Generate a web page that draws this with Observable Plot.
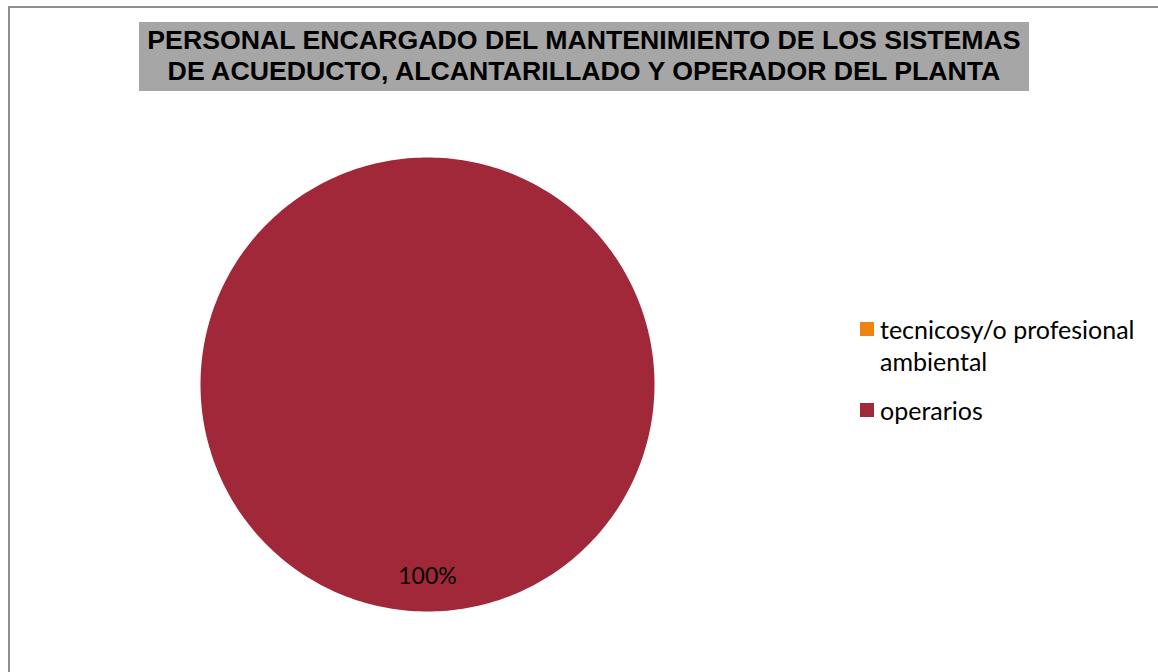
<!DOCTYPE html>
<html>
<head>
<meta charset="utf-8">
<script src="https://cdn.jsdelivr.net/npm/d3@7"></script>
<script src="https://cdn.jsdelivr.net/npm/@observablehq/plot@0.6"></script>
<style>
  html, body { margin: 0; padding: 0; background: #fff; }
  #wrap { position: relative; width: 1158px; height: 672px; overflow: hidden; }
  #frame { position: absolute; left: 8px; top: 6px; width: 1200px; height: 700px;
           border-left: 2px solid #8e8e8e; border-top: 2px solid #8e8e8e; box-sizing: border-box; }
  #title { position: absolute; left: 139px; top: 22px; width: 890px; height: 69px; background: #a6a6a6;
           font-family: "Liberation Sans", Arial, sans-serif; font-weight: bold; font-size: 26.7px;
           line-height: 31px; text-align: center; color: #000; padding-top: 3px; box-sizing: border-box;
           white-space: nowrap; }
  #chart { position: absolute; left: 0; top: 0; }
  #legend { position: absolute; left: 860px; top: 313px; font-family: Lato, "Open Sans", sans-serif;
            font-size: 25px; color: #000; }
  .item { position: relative; padding-left: 20px; line-height: 32px; margin-bottom: 17px; white-space: nowrap; }
  .sw { position: absolute; left: 0; top: 9px; width: 14px; height: 14px; }
</style>
</head>
<body>
<div id="wrap">
  <div id="frame"></div>
  <div id="chart"></div>
  <div id="title">PERSONAL ENCARGADO DEL MANTENIMIENTO DE LOS SISTEMAS<br>DE ACUEDUCTO, ALCANTARILLADO Y OPERADOR DEL PLANTA</div>
  <div id="legend"></div>
</div>
<script>
const categories = ["tecnicosy/o profesional\nambiental", "operarios"];
const values = [0, 100];
const colors = ["#f0820f", "#a02838"];
const labels = ["", "100%"];

const pie = d3.pie().sort(null).value(d => d.value)(categories.map((c, i) => ({category: c, value: values[i], label: labels[i]})));

// slice outlines in unit-circle coordinates (angle 0 at 12 o'clock, clockwise)
const slicePts = [];
pie.forEach(s => {
  if (s.endAngle - s.startAngle <= 0) return;
  const n = 360;
  slicePts.push({category: s.data.category, x: 0, y: 0});
  for (let k = 0; k <= n; k++) {
    const a = s.startAngle + (s.endAngle - s.startAngle) * k / n;
    slicePts.push({category: s.data.category, x: Math.sin(a), y: Math.cos(a)});
  }
});
const labelPts = pie.filter(s => s.data.label).map(s => {
  const a = (s.startAngle + s.endAngle) / 2, r = 0.845;
  return {x: r * Math.sin(a), y: r * Math.cos(a), text: s.data.label};
});

const chart = Plot.plot({
  width: 1158, height: 672,
  marginLeft: 200, marginRight: 504, marginTop: 157, marginBottom: 61,
  x: {domain: [-1, 1], axis: null},
  y: {domain: [-1, 1], axis: null},
  color: {domain: categories, range: colors},
  style: {background: "transparent"},
  marks: [
    Plot.line(slicePts, {x: "x", y: "y", z: "category", fill: "category", stroke: null, curve: "linear"}),
    Plot.text(labelPts, {x: "x", y: "y", text: "text", fontSize: 23, fill: "#000",
      fontFamily: "Lato, 'Open Sans', sans-serif"})
  ]
});
document.getElementById("chart").appendChild(chart);

const legend = document.getElementById("legend");
categories.forEach((c, i) => {
  const it = document.createElement("div");
  it.className = "item";
  const sw = document.createElement("span");
  sw.className = "sw"; sw.style.background = colors[i];
  it.appendChild(sw);
  const t = document.createElement("span");
  t.innerHTML = c.replace("\n", "<br>");
  it.appendChild(t);
  legend.appendChild(it);
});
</script>
</body>
</html>
